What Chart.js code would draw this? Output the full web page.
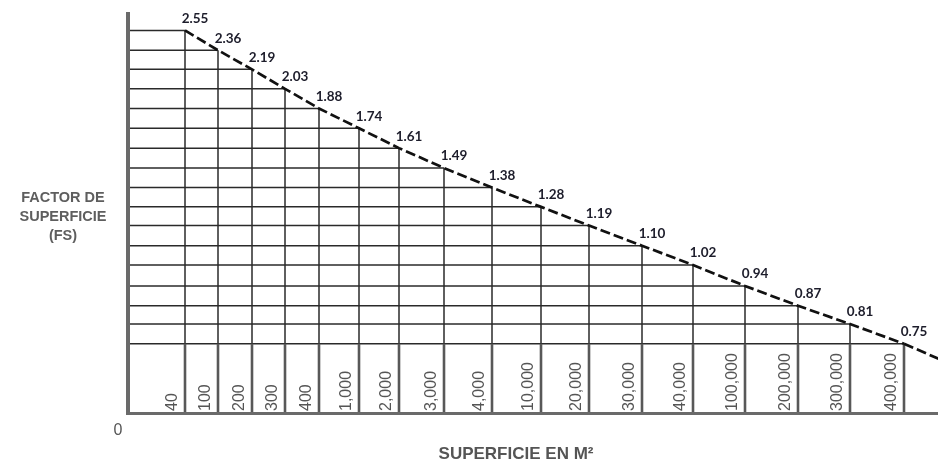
<!DOCTYPE html>
<html>
<head>
<meta charset="utf-8">
<title>Factor de superficie</title>
<script src="https://cdn.jsdelivr.net/npm/chart.js@4.4.1/dist/chart.umd.min.js"></script>
<style>
  html, body { margin: 0; padding: 0; background: #fff; }
  .chart-wrapper { position: relative; width: 938px; height: 463px; }
</style>
</head>
<body>
<div class="chart-wrapper"><canvas id="fsChart"></canvas></div>
<script>
// Area classes (m²) and the surface factor for each one
const areaLabels = ['40', '100', '200', '300', '400', '1,000', '2,000', '3,000', '4,000',
    '10,000', '20,000', '30,000', '40,000', '100,000', '200,000', '300,000', '400,000'];
const fsValues = [2.55, 2.36, 2.19, 2.03, 1.88, 1.74, 1.61, 1.49, 1.38,
    1.28, 1.19, 1.10, 1.02, 0.94, 0.87, 0.81, 0.75];
// How much of the horizontal axis each area class takes
const areaSpan = [57, 33, 34, 33, 34, 40, 40, 45, 48, 49, 48, 53, 51, 52, 53, 52, 54];
const originLabel = '0';
const yTitleLines = ['FACTOR DE', 'SUPERFICIE', '(FS)'];
const xTitle = 'SUPERFICIE EN M²';

// Right edge of every column = running total of the spans
const areaEdge = [];
areaSpan.reduce((sum, w) => { areaEdge.push(sum + w); return sum + w; }, 0);
const xMax = areaEdge[areaEdge.length - 1] + 34; // axis runs a bit past the last column

const dashPattern = [10, 4];

function strokeLine(ctx, x1, y1, x2, y2) {
    ctx.beginPath();
    ctx.moveTo(x1, y1);
    ctx.lineTo(x2, y2);
    ctx.stroke();
}

// Staircase grid under the curve, column separators, area labels and axes
const stepGrid = {
    id: 'stepGrid',
    beforeDatasetsDraw(chart) {
        const { ctx, chartArea: area, scales: { x, y } } = chart;
        const baseY = y.getPixelForValue(fsValues[fsValues.length - 1]);
        ctx.save();

        // each level runs from the axis to its column's right edge, then drops down
        ctx.strokeStyle = '#2a2a2a';
        ctx.lineWidth = 1.5;
        fsValues.forEach((v, i) => {
            const py = y.getPixelForValue(v);
            const px = x.getPixelForValue(areaEdge[i]);
            strokeLine(ctx, area.left, py, px, py);
            strokeLine(ctx, px, py, px, baseY);
        });

        // heavier separators in the label band
        ctx.strokeStyle = '#585858';
        ctx.lineWidth = 2.6;
        areaEdge.forEach(e => {
            const px = x.getPixelForValue(e);
            strokeLine(ctx, px, baseY, px, area.bottom);
        });

        // rotated area labels inside each column
        ctx.fillStyle = '#555';
        ctx.font = '16px "Liberation Sans", Arial, sans-serif';
        ctx.textAlign = 'left';
        ctx.textBaseline = 'middle';
        areaLabels.forEach((label, i) => {
            const px = x.getPixelForValue(areaEdge[i]);
            ctx.save();
            ctx.translate(px - 12.5, area.bottom - 3);
            ctx.rotate(-Math.PI / 2);
            ctx.fillText(label, 0, 0);
            ctx.restore();
        });

        // axes
        ctx.strokeStyle = '#6a6a6a';
        ctx.lineWidth = 4;
        strokeLine(ctx, area.left, area.top, area.left, area.bottom + 1);
        ctx.lineWidth = 3;
        strokeLine(ctx, area.left - 2, area.bottom - 0.5, area.right, area.bottom - 0.5);
        ctx.restore();
    }
};

// Value labels, trend continuation and titles
const chartText = {
    id: 'chartText',
    afterDatasetsDraw(chart) {
        const { ctx, chartArea: area, scales: { x, y } } = chart;
        const n = fsValues.length;
        ctx.save();

        // carry the dashed trend on to the right edge
        const x0 = x.getPixelForValue(areaEdge[0]), y0 = y.getPixelForValue(fsValues[0]);
        const x1 = x.getPixelForValue(areaEdge[n - 1]), y1 = y.getPixelForValue(fsValues[n - 1]);
        const slope = (y1 - y0) / (x1 - x0);
        ctx.beginPath();
        ctx.rect(area.left, area.top, area.right - area.left, area.bottom - area.top);
        ctx.clip();
        ctx.strokeStyle = '#111';
        ctx.lineWidth = 2.7;
        ctx.setLineDash(dashPattern);
        strokeLine(ctx, x1, y1, area.right + 5, y1 + slope * (area.right + 5 - x1));
        ctx.restore();

        ctx.save();
        ctx.fillStyle = '#1d1d2b';
        ctx.font = 'bold 13.5px Lato, "Open Sans", sans-serif';
        ctx.textAlign = 'center';
        ctx.textBaseline = 'middle';
        fsValues.forEach((v, i) => {
            const px = x.getPixelForValue(areaEdge[i]);
            const py = y.getPixelForValue(v);
            ctx.fillText(v.toFixed(2), px + 10, py - 12);
        });

        ctx.fillStyle = '#5e5e5e';
        ctx.font = 'bold 14.5px "Liberation Sans", Arial, sans-serif';
        yTitleLines.forEach((line, i) => {
            ctx.fillText(line, 63, 198 + i * 19);
        });

        ctx.fillStyle = '#555';
        ctx.font = 'bold 17px "Liberation Sans", Arial, sans-serif';
        ctx.fillText(xTitle, (area.left + x.getPixelForValue(areaEdge[n - 1])) / 2, 454);

        ctx.font = '16px "Liberation Sans", Arial, sans-serif';
        ctx.fillText(originLabel, area.left - 10, 431);
        ctx.restore();
    }
};

const chartCtx = document.getElementById('fsChart').getContext('2d');
const fsChart = new Chart(chartCtx, {
    type: 'line',
    data: {
        datasets: [{
            label: 'FS',
            data: fsValues.map((v, i) => ({ x: areaEdge[i], y: v })),
            borderColor: '#111',
            borderWidth: 2.7,
            borderDash: dashPattern,
            pointRadius: 0,
            fill: false,
            tension: 0
        }]
    },
    options: {
        responsive: true,
        maintainAspectRatio: false,
        animation: false,
        layout: {
            padding: { left: 128, top: 12, right: 0, bottom: 49 }
        },
        plugins: {
            legend: { display: false },
            tooltip: { enabled: false }
        },
        scales: {
            x: { type: 'linear', display: false, min: 0, max: xMax },
            y: { type: 'logarithmic', display: false, min: 0.57, max: 2.74 }
        }
    },
    plugins: [stepGrid, chartText]
});
</script>
</body>
</html>
